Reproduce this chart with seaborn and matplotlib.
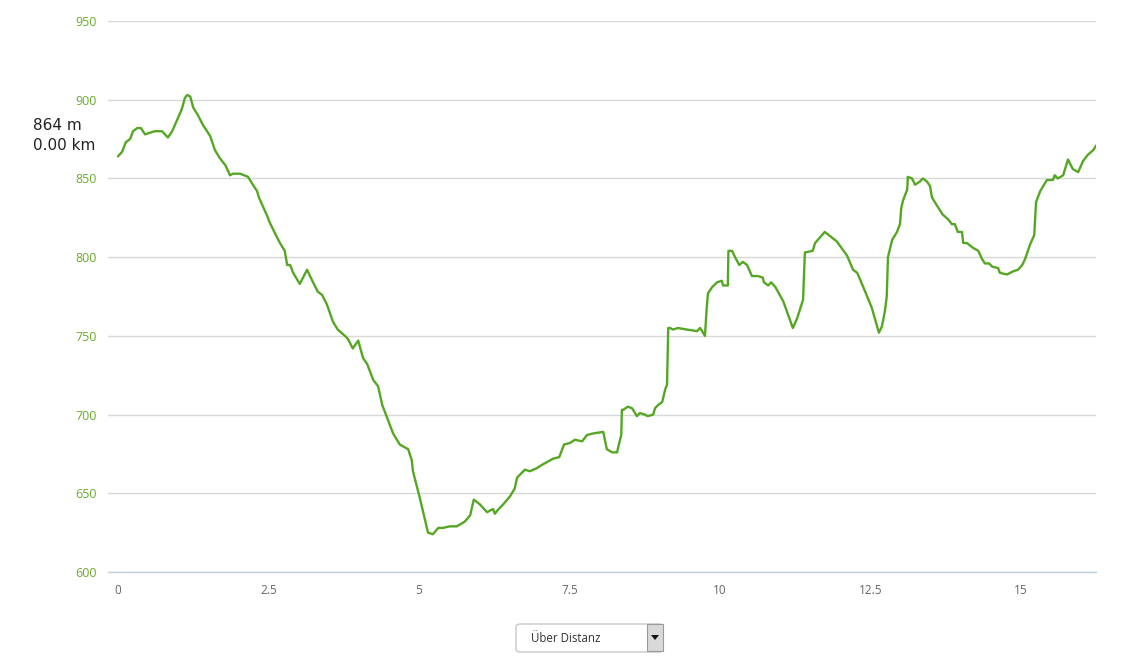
import matplotlib
matplotlib.use("Agg")
import matplotlib.pyplot as plt
from matplotlib.patches import FancyBboxPatch, Rectangle, Polygon
import seaborn as sns
import pandas as pd

# Distance (km) along the route
distance_km = [
    0.00, 0.07, 0.13, 0.20, 0.25, 0.32, 0.38, 0.45, 0.53, 0.61, 0.73, 0.78, 0.83, 0.90,
    0.98, 1.06, 1.11, 1.15, 1.20, 1.25, 1.33, 1.41, 1.53, 1.61, 1.69, 1.79, 1.86, 1.91,
    2.03, 2.16, 2.24, 2.31, 2.34, 2.41, 2.48, 2.52, 2.61, 2.69, 2.77, 2.81, 2.86, 2.91,
    3.02, 3.14, 3.24, 3.32, 3.39, 3.47, 3.57, 3.65, 3.77, 3.82, 3.90, 3.99, 4.07, 4.14,
    4.24, 4.32, 4.39, 4.47, 4.57, 4.68, 4.82, 4.88, 4.90, 5.02, 5.15, 5.23, 5.32, 5.40,
    5.51, 5.63, 5.76, 5.85, 5.91, 6.01, 6.13, 6.23, 6.26, 6.30, 6.40, 6.51, 6.59, 6.63,
    6.76, 6.84, 6.96, 7.04, 7.23, 7.33, 7.41, 7.51, 7.59, 7.71, 7.79, 7.89, 8.06, 8.12,
    8.21, 8.29, 8.32, 8.36, 8.37, 8.39, 8.47, 8.54, 8.62, 8.67, 8.75, 8.80, 8.89, 8.92,
    8.97, 9.04, 9.09, 9.12, 9.14, 9.17, 9.22, 9.30, 9.45, 9.62, 9.67, 9.75, 9.78, 9.80,
    9.87, 9.95, 10.03, 10.05, 10.13, 10.14, 10.20, 10.25, 10.32, 10.38, 10.45, 10.53,
    10.63, 10.71, 10.73, 10.80, 10.85, 10.92, 11.05, 11.21, 11.28, 11.38, 11.41, 11.54,
    11.58, 11.74, 11.94, 12.11, 12.21, 12.28, 12.38, 12.52, 12.64, 12.69, 12.74, 12.77,
    12.79, 12.86, 12.94, 12.99, 13.01, 13.04, 13.11, 13.12, 13.19, 13.24, 13.32, 13.37,
    13.44, 13.49, 13.52, 13.60, 13.70, 13.79, 13.85, 13.90, 13.94, 13.95, 14.02, 14.04,
    14.10, 14.20, 14.29, 14.35, 14.40, 14.47, 14.52, 14.62, 14.65, 14.77, 14.87, 14.95,
    15.02, 15.07, 15.15, 15.22, 15.25, 15.32, 15.43, 15.53, 15.56, 15.61, 15.70, 15.78,
    15.86, 15.95, 16.03, 16.11, 16.20, 16.25,
]

# Elevation (m)
elevation_m = [
    864, 867, 873, 875, 880, 882, 882, 878, 879, 880, 880, 878, 876, 880,
    887, 894, 901, 903, 902, 895, 890, 884, 877, 868, 863, 858, 852, 853,
    853, 851, 846, 842, 838, 832, 826, 822, 815, 809, 804, 795, 795, 790,
    783, 792, 784, 778, 776, 770, 759, 754, 750, 748, 742, 747, 736, 732,
    722, 718, 706, 698, 688, 681, 678, 671, 664, 646, 625, 624, 628, 628,
    629, 629, 632, 636, 646, 643, 638, 640, 637, 639, 643, 648, 653, 660,
    665, 664, 666, 668, 672, 673, 681, 682, 684, 683, 687, 688, 689, 678,
    676, 676, 681, 687, 703, 703, 705, 704, 699, 701, 700, 699, 700, 704,
    706, 708, 716, 719, 755, 755, 754, 755, 754, 753, 755, 750, 768, 777,
    781, 784, 785, 782, 782, 804, 804, 800, 795, 797, 795, 788,
    788, 787, 784, 782, 784, 781, 772, 755, 761, 773, 803, 804,
    809, 816, 810, 801, 792, 790, 781, 768, 752, 756, 766, 775,
    800, 811, 816, 821, 831, 836, 843, 851, 850, 846, 848, 850,
    848, 845, 838, 833, 827, 824, 821, 821, 817, 816, 816, 809,
    809, 806, 804, 799, 796, 796, 794, 793, 790, 789, 791, 792,
    795, 799, 808, 814, 835, 842, 849, 849, 852, 850, 852, 862,
    856, 854, 861, 865, 868, 871,
]

y_ticks = [600, 650, 700, 750, 800, 850, 900, 950]
x_ticks = [0, 2.5, 5, 7.5, 10, 12.5, 15]
x_tick_labels = ["0", "2.5", "5", "7.5", "10", "12.5", "15"]
info_lines = ["864 m", "0.00 km"]
dropdown_label = "Über Distanz"

sns.set_style("white")
plt.rcParams["font.family"] = ["Open Sans", "DejaVu Sans"]

W, H = 1146, 671
fig = plt.figure(figsize=(W / 100, H / 100), dpi=100)
ax = fig.add_axes([108 / W, 1 - 572 / H, 988 / W, 551 / H])

df = pd.DataFrame({"km": distance_km, "m": elevation_m})
sns.lineplot(data=df, x="km", y="m", ax=ax, color="#55a723", linewidth=1.7,
             sort=False, estimator=None, zorder=3)

ax.set_xlim((108 - 118) / 60.2, (1096 - 118) / 60.2)
ax.set_ylim(600, 950)
ax.set_yticks(y_ticks)
ax.set_xticks(x_ticks)
ax.set_xticklabels(x_tick_labels)
ax.set_xlabel("")
ax.set_ylabel("")
ax.yaxis.grid(True, color="#d8d8d8", linewidth=1)
ax.xaxis.grid(False)
for s in ["top", "right", "left"]:
    ax.spines[s].set_visible(False)
ax.spines["bottom"].set_color("#c0d0e0")
ax.spines["bottom"].set_linewidth(1)
ax.tick_params(axis="y", length=0, pad=8, labelsize=9, labelcolor="#6aaa2a")
ax.tick_params(axis="x", length=0, pad=9, labelsize=8.5, labelcolor="#666666")

# info text
fig.text(33 / W, 1 - 126 / H, info_lines[0], fontsize=11, color="#222222",
         va="center", ha="left", family=["DejaVu Sans"])
fig.text(33 / W, 1 - 146 / H, info_lines[1], fontsize=11, color="#222222",
         va="center", ha="left", family=["DejaVu Sans"])

# dropdown
box = FancyBboxPatch((516 / W, 1 - 652 / H), 147 / W, 28 / H,
                     boxstyle="round,pad=0,rounding_size=0.004",
                     transform=fig.transFigure, facecolor="white",
                     edgecolor="#c8c8c8", linewidth=1)
fig.patches.append(box)
btn = Rectangle((647 / W, 1 - 651 / H), 16 / W, 27 / H, transform=fig.transFigure,
                facecolor="#d9d9d9", edgecolor="#9a9a9a", linewidth=0.8)
fig.patches.append(btn)
tri = Polygon([[651 / W, 1 - 635 / H], [659 / W, 1 - 635 / H], [655 / W, 1 - 640 / H]],
              closed=True, transform=fig.transFigure, facecolor="#111111", edgecolor="none")
fig.patches.append(tri)
fig.text(531 / W, 1 - 638 / H, dropdown_label, fontsize=8.3, color="#333333",
         va="center", ha="left")

fig.savefig("out.png", dpi=100, facecolor="white")
